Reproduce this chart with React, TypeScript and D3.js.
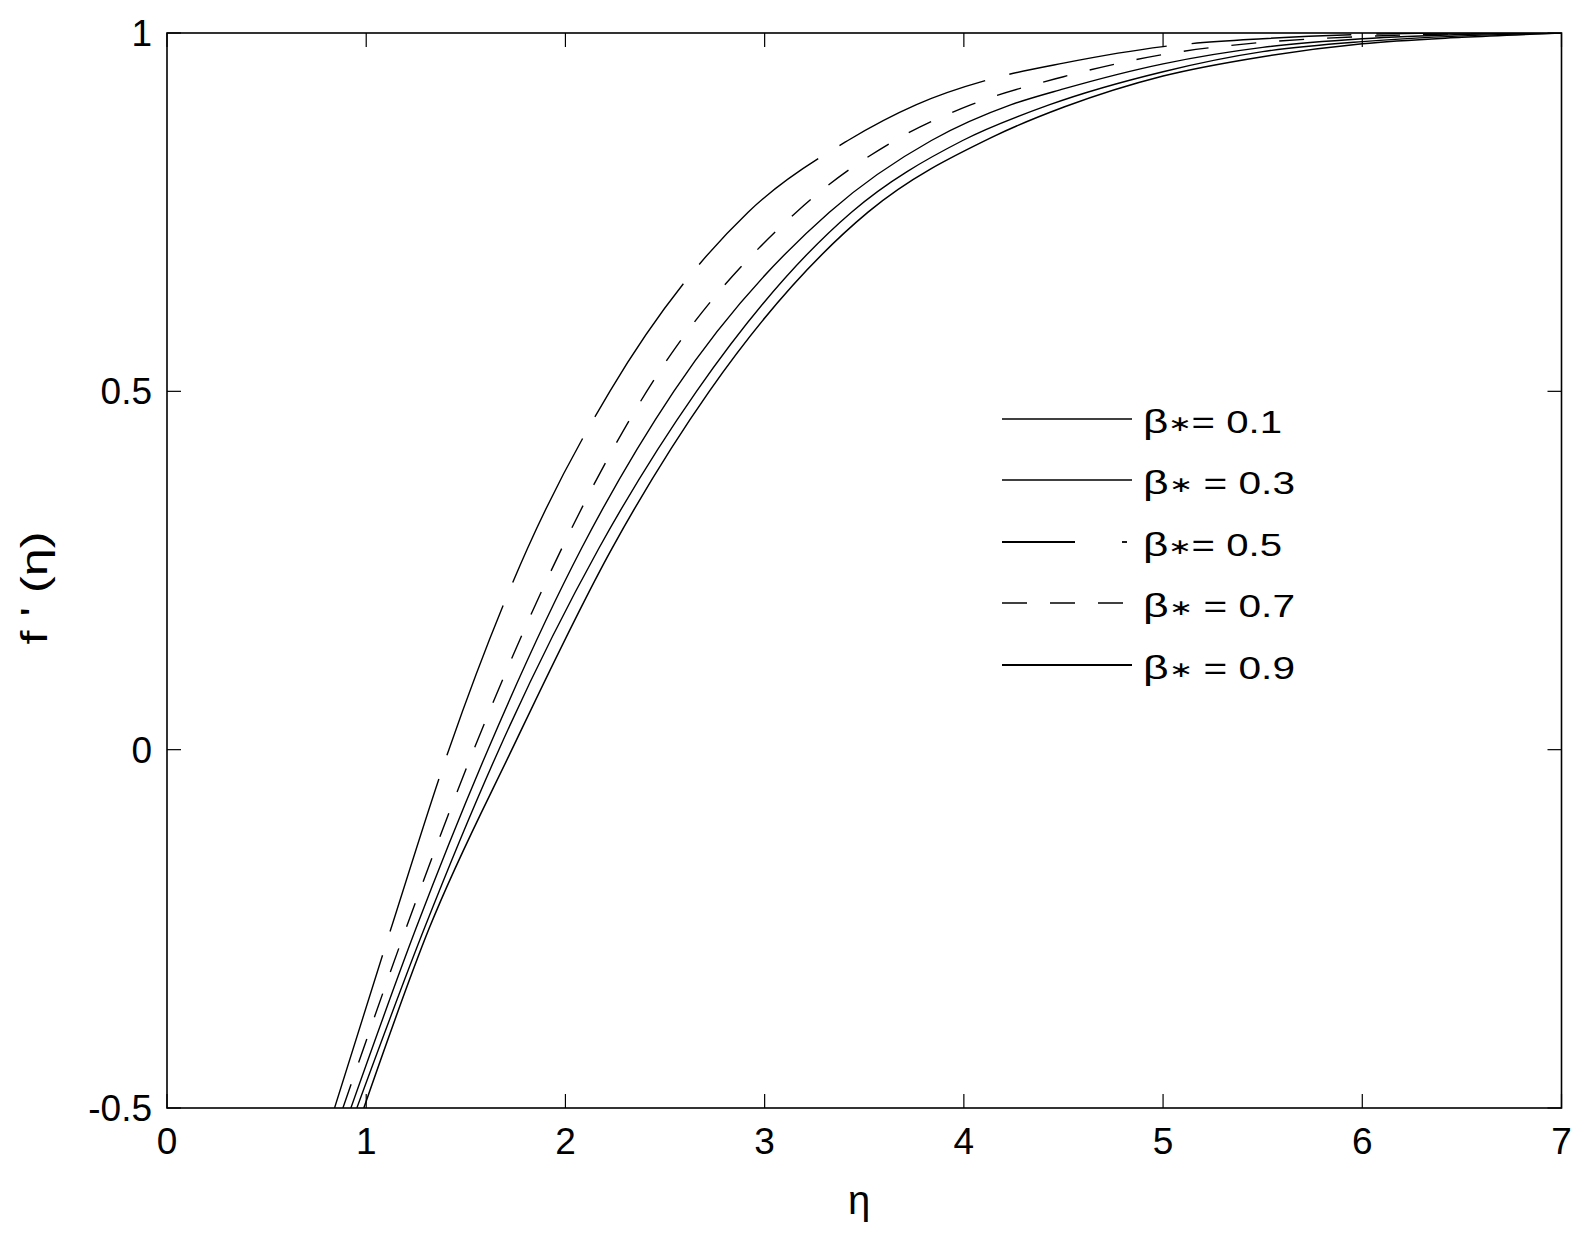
import React from "react";
import * as d3 from "d3";

// ---- data ----
const xTicks = [0, 1, 2, 3, 4, 5, 6, 7];
const yTicks = [-0.5, 0, 0.5, 1];

const etaA = [0.841, 1.124, 1.415, 1.81, 2.223, 2.917, 3.418, 3.762, 4.18, 4.5, 5.0, 5.5, 6.0, 6.5, 7.0];
const fA = [-0.5, -0.25, 0, 0.281, 0.5, 0.75, 0.85, 0.9, 0.939, 0.958, 0.981, 0.992, 0.998, 1.0, 1.0];

const etaB = [0.883, 1.199, 1.54, 1.982, 2.408, 3.159, 3.653, 4.037, 4.5, 5.0, 5.5, 6.0, 6.5, 7.0];
const fB = [-0.5, -0.25, 0, 0.281, 0.5, 0.75, 0.85, 0.9, 0.939, 0.97, 0.987, 0.995, 0.999, 1.0];

const etaC = [0.923, 1.249, 1.611, 2.081, 2.544, 3.325, 3.837, 4.238, 4.5, 5.0, 5.5, 6.0, 6.5, 7.0];
const fC = [-0.5, -0.25, 0, 0.281, 0.5, 0.75, 0.85, 0.9, 0.922, 0.957, 0.98, 0.992, 0.998, 1.0];

const etaD = [0.953, 1.291, 1.666, 2.168, 2.658, 3.436, 3.994, 4.431, 5.0, 5.5, 6.0, 6.5, 7.0];
const fD = [-0.5, -0.25, 0, 0.281, 0.5, 0.75, 0.85, 0.9, 0.946, 0.974, 0.988, 0.996, 1.0];

const etaE = [0.988, 1.315, 1.731, 2.234, 2.722, 3.519, 4.145, 4.506, 5.0, 5.5, 6.0, 6.5, 7.0];
const fE = [-0.5, -0.25, 0, 0.281, 0.5, 0.75, 0.855, 0.897, 0.94, 0.967, 0.985, 0.994, 1.0];

const legendValues = ["0.1", "0.3", "0.5", "0.7", "0.9"];
const legendEq = ["= ", " = ", "= ", " = ", " = "];

// ---- layout ----
const W = 1584;
const H = 1239;
const L = 167, R = 1561.5, T = 33, B = 1108;

const x = d3.scaleLinear().domain([0, 7]).range([L, R]);
const y = d3.scaleLinear().domain([-0.5, 1]).range([B, T]);

const curves = [
  { eta: etaA, f: fA, dash: "160,25", w: 1.4 },
  { eta: etaB, f: fB, dash: "25,23", w: 1.4 },
  { eta: etaC, f: fC, dash: "", w: 1.4 },
  { eta: etaD, f: fD, dash: "", w: 1.4 },
  { eta: etaE, f: fE, dash: "", w: 1.5 },
];

const line = d3
  .line<[number, number]>()
  .x((d) => x(d[0]))
  .y((d) => y(d[1]))
  .curve(d3.curveMonotoneX);

const FONT = "'Liberation Sans', Arial, sans-serif";

export default function App() {
  const tickLen = 14;
  const legendX0 = 1002;
  const legendX1 = 1132;
  const legendYs = [419, 480, 542, 603, 665];
  const legendTextW = [139, 152, 139, 152, 152];
  const legendStyles = [
    { w: 1.3, segs: [[legendX0, legendX1]] },
    { w: 1.3, segs: [[legendX0, legendX1]] },
    { w: 1.8, segs: [[legendX0, 1075], [1122, 1127]] },
    { w: 1.5, segs: [[1002, 1027], [1050, 1075], [1098, 1123]] },
    { w: 2.2, segs: [[legendX0, legendX1]] },
  ];
  return (
    <svg
      width={W}
      height={H}
      style={{ position: "absolute", left: 0, top: 0, background: "#fff" }}
    >
      <defs>
        <clipPath id="plotclip">
          <rect x={L} y={T} width={R - L} height={B - T} />
        </clipPath>
      </defs>
      <rect x={0} y={0} width={W} height={H} fill="#fff" />

      {/* curves */}
      <g clipPath="url(#plotclip)">
        {curves.map((c, i) => {
          const pts: [number, number][] = c.eta.map((e, k) => [e, c.f[k]]);
          return (
            <path
              key={i}
              d={line(pts) || ""}
              fill="none"
              stroke="#000"
              strokeWidth={c.w}
              strokeDasharray={c.dash || undefined}
            />
          );
        })}
      </g>

      {/* axes box */}
      <rect x={L} y={T} width={R - L} height={B - T} fill="none" stroke="#000" strokeWidth={1.6} />

      {/* x ticks */}
      {xTicks.map((t) => (
        <g key={"x" + t}>
          <line x1={x(t)} x2={x(t)} y1={B} y2={B - tickLen} stroke="#000" strokeWidth={1.2} />
          <line x1={x(t)} x2={x(t)} y1={T} y2={T + tickLen} stroke="#000" strokeWidth={1.2} />
          <text
            x={x(t)}
            y={1154}
            textAnchor="middle"
            fontFamily={FONT}
            fontSize={37}
            fill="#000"
          >
            {String(t)}
          </text>
        </g>
      ))}

      {/* y ticks */}
      {yTicks.map((t) => (
        <g key={"y" + t}>
          <line x1={L} x2={L + tickLen} y1={y(t)} y2={y(t)} stroke="#000" strokeWidth={1.2} />
          <line x1={R} x2={R - tickLen} y1={y(t)} y2={y(t)} stroke="#000" strokeWidth={1.2} />
          <text
            x={152}
            y={y(t) + 13}
            textAnchor="end"
            fontFamily={FONT}
            fontSize={37}
            fill="#000"
          >
            {String(t)}
          </text>
        </g>
      ))}

      {/* axis labels */}
      <text x={859} y={1214} textAnchor="middle" fontFamily={FONT} fontSize={40} fill="#000">
        η
      </text>
      <text
        transform={`translate(47,588) rotate(-90)`}
        textAnchor="middle"
        fontFamily={FONT}
        fontSize={37}
        fill="#000"
        textLength={113}
        lengthAdjust="spacingAndGlyphs"
      >
        {"f ' (η)"}
      </text>

      {/* legend */}
      {legendValues.map((v, i) => (
        <g key={"lg" + i}>
          {legendStyles[i].segs.map((s, k) => (
            <line
              key={k}
              x1={s[0]}
              x2={s[1]}
              y1={legendYs[i]}
              y2={legendYs[i]}
              stroke="#000"
              strokeWidth={legendStyles[i].w}
            />
          ))}
          <text
            x={1143}
            y={legendYs[i] + 14}
            fontFamily={FONT}
            fontSize={31}
            fill="#000"
            textLength={legendTextW[i]}
            lengthAdjust="spacingAndGlyphs"
          >
            <tspan fontSize={34}>β</tspan>
            <tspan fontSize={22} dy={-2}>∗</tspan>
            <tspan dy={2}>{legendEq[i] + v}</tspan>
          </text>
        </g>
      ))}
    </svg>
  );
}
